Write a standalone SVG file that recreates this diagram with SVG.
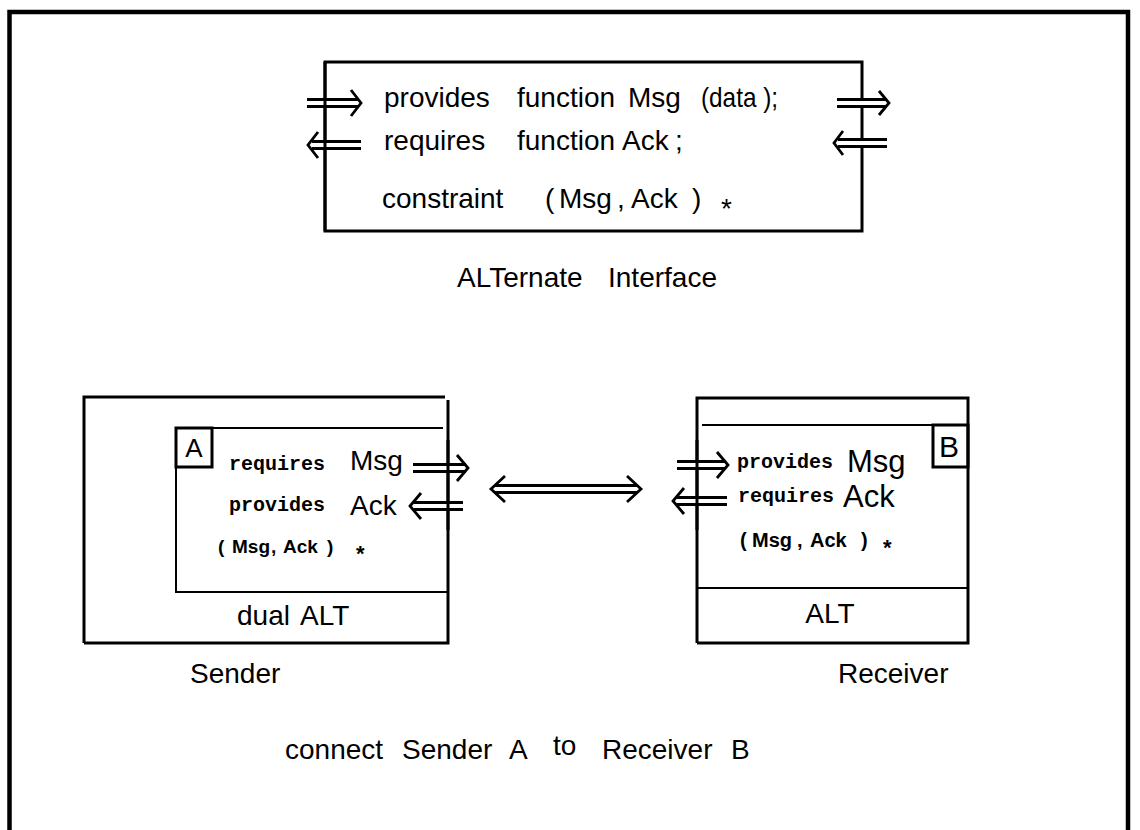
<svg xmlns="http://www.w3.org/2000/svg" width="1140" height="830" viewBox="0 0 1140 830">
<style>
text{font-family:"Liberation Sans",Arial,sans-serif;fill:#000;white-space:pre}
.t{font-size:28px}
.m{font-family:"Liberation Mono","Courier New",monospace;font-weight:bold;font-size:20px}
.b{font-weight:bold;font-size:19px}
.box{fill:none;stroke:#000;stroke-width:3}
.thin{fill:none;stroke:#000;stroke-width:2}
.ao{fill:none;stroke:#000;stroke-width:10}
.ai{fill:none;stroke:#fff;stroke-width:4}
.ah{fill:none;stroke:#000;stroke-width:2.8}
</style>
<rect width="1140" height="830" fill="#fff"/>
<path d="M9.5 830 V12 H1128 V830" fill="none" stroke="#000" stroke-width="4.5"/>

<g id="alt-interface">
<rect x="325" y="62" width="537" height="169" class="box"/>
<text class="t" y="107"><tspan x="384">provides</tspan><tspan x="517">function</tspan><tspan x="628">Msg</tspan></text>
<text class="t" x="701" y="107" textLength="77" lengthAdjust="spacingAndGlyphs">(data );</text>
<text class="t" y="150"><tspan x="384">requires</tspan><tspan x="517">function</tspan><tspan x="622">Ack</tspan><tspan x="675">;</tspan></text>
<text class="t" y="208"><tspan x="382">constraint</tspan><tspan x="545">(</tspan><tspan x="559">Msg</tspan><tspan x="617">,</tspan><tspan x="631">Ack</tspan><tspan x="692">)</tspan></text>
<text class="t" x="721" y="218">*</text>
<text class="t" y="287"><tspan x="457">ALTernate</tspan><tspan x="608">Interface</tspan></text>
</g>

<g id="sender">
<path d="M84 643 V397 H445 M448 400 V643 H84" class="box"/>
<path d="M176 428 H443 M176 428 V592 H448" class="thin"/>
<rect x="176" y="428" width="36" height="39" class="box"/>
<text x="194" y="457" font-size="26" text-anchor="middle">A</text>
<text x="229" y="470" class="m">requires</text>
<text x="350" y="470" class="t">Msg</text>
<text x="229" y="511" class="m">provides</text>
<text x="350" y="515" class="t">Ack</text>
<text class="b" y="553"><tspan x="218">(</tspan><tspan x="232">Msg</tspan><tspan x="271">,</tspan><tspan x="283">Ack</tspan><tspan x="327">)</tspan></text>
<text x="356" y="561" font-size="22" font-weight="bold">*</text>
<text class="t" y="625"><tspan x="237">dual</tspan><tspan x="300">ALT</tspan></text>
<text x="190" y="683" class="t">Sender</text>
</g>

<g id="receiver">
<path d="M697 643 V398 H968 V643 H697" class="box"/>
<path d="M702 425 H968 M697 588 H968" class="thin"/>
<rect x="933" y="425" width="35" height="42" class="box"/>
<text x="949" y="457" font-size="30" text-anchor="middle">B</text>
<text x="737" y="468" class="m">provides</text>
<text x="847" y="472" font-size="31">Msg</text>
<text x="738" y="502" class="m">requires</text>
<text x="843" y="507" font-size="31">Ack</text>
<text class="b" y="547" style="font-size:20px"><tspan x="740">(</tspan><tspan x="752">Msg</tspan><tspan x="797">,</tspan><tspan x="810">Ack</tspan><tspan x="861">)</tspan></text>
<text x="883" y="555" font-size="22" font-weight="bold">*</text>
<text x="830" y="623" class="t" text-anchor="middle">ALT</text>
<text x="838" y="683" class="t">Receiver</text>
</g>

<g id="labels">
<text class="t" y="759"><tspan x="285">connect</tspan><tspan x="402">Sender</tspan><tspan x="509">A</tspan><tspan x="602">Receiver</tspan><tspan x="731">B</tspan></text>
<text x="553" y="755" class="t">to</text>
</g>

<g id="connectors">
<g>
<path d="M307 103 H359" class="ao" stroke-width="9"/><path d="M307 103 H359" class="ai" stroke-width="3.5"/><path d="M351 90 L361 103 L351 116" class="ah"/>
<path d="M312 145 H361" class="ao" stroke-width="9"/><path d="M312 145 H361" class="ai" stroke-width="3.5"/><path d="M318 132 L308 145 L318 158" class="ah"/>
<path d="M325 62 V231" class="box"/>
</g>
<g>
<path d="M837 103 H887" class="ao" stroke-width="9"/><path d="M837 103 H887" class="ai" stroke-width="3.5"/><path d="M879 91 L889 103 L879 115" class="ah"/>
<path d="M838 143 H887" class="ao" stroke-width="9"/><path d="M838 143 H887" class="ai" stroke-width="3.5"/><path d="M843 131 L834 143 L843 155" class="ah"/>
</g>
<path d="M413 468 H466" class="ao"/><path d="M413 468 H466" class="ai"/><path d="M457 455 L468 468 L457 481" class="ah"/>
<path d="M414 506 H463" class="ao"/><path d="M414 506 H463" class="ai"/><path d="M421 493 L410 506 L421 519" class="ah"/>
<path d="M448 440 V530" class="box"/>
<path d="M677 465 H726" class="ao"/><path d="M677 465 H726" class="ai"/><path d="M717 452 L728 465 L717 478" class="ah"/>
<path d="M677 501 H727" class="ao"/><path d="M677 501 H727" class="ai"/><path d="M684 488 L673 501 L684 514" class="ah"/>
<path d="M697 440 V530" class="box"/>
<path d="M495 489 H637" class="ao" stroke-width="11"/><path d="M495 489 H637" class="ai" stroke-width="5"/>
<path d="M505 476 L491 489 L505 502" class="ah"/><path d="M627 476 L641 489 L627 502" class="ah"/>
</g>
</svg>
